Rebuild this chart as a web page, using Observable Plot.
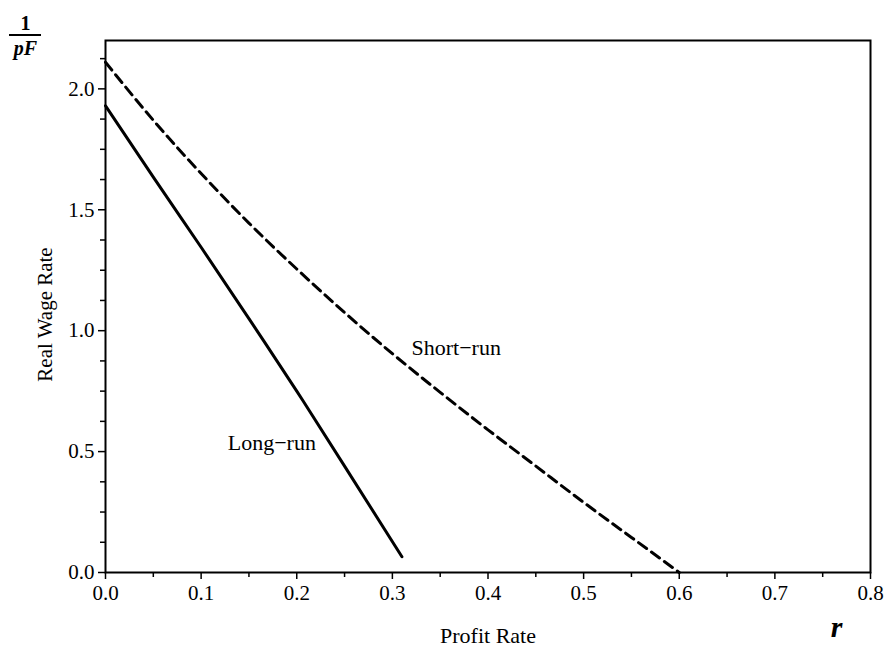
<!DOCTYPE html>
<html>
<head>
<meta charset="utf-8">
<script src="https://cdn.jsdelivr.net/npm/d3@7"></script>
<script src="https://cdn.jsdelivr.net/npm/@observablehq/plot@0.6"></script>
<style>
  body { margin: 0; background: #fff; }
  #chart { position: relative; width: 890px; height: 648px; font-family: "Liberation Serif", "Times New Roman", serif; }
  #fracbar { position: absolute; left: 9px; top: 34px; width: 32px; height: 2px; background: #000; }
</style>
</head>
<body>
<div id="chart"><div id="fracbar"></div></div>
<script>
// Wage–profit frontiers: real wage (1/pF) against the profit rate r
const shortRunRate = [0, 0.05, 0.1, 0.15, 0.2, 0.25, 0.3, 0.35, 0.4, 0.45, 0.5, 0.55, 0.6];
const shortRunWage = [2.11, 1.87, 1.65, 1.445, 1.255, 1.075, 0.905, 0.745, 0.59, 0.44, 0.29, 0.145, 0];

const longRunRate = [0, 0.05, 0.1, 0.15, 0.2, 0.25, 0.31];
const longRunWage = [1.93, 1.635, 1.345, 1.05, 0.75, 0.44, 0.065];

const xMajorTicks = [0, 0.1, 0.2, 0.3, 0.4, 0.5, 0.6, 0.7, 0.8];
const xMinorTicks = [0.05, 0.15, 0.25, 0.35, 0.45, 0.55, 0.65, 0.75];
const yMajorTicks = [0, 0.5, 1.0, 1.5, 2.0];
const yMinorTicks = [0.125, 0.25, 0.375, 0.625, 0.75, 0.875, 1.125, 1.25, 1.375, 1.625, 1.75, 1.875, 2.125];

const shortRunLabel = [{text: "Short\u2212run", r: 0.32, w: 0.93}];
const longRunLabel = [{text: "Long\u2212run", r: 0.22, w: 0.535}];

const serif = '"Liberation Serif", "Times New Roman", serif';
const fmt = d => d.toFixed(1);

const chart = Plot.plot({
  width: 890,
  height: 648,
  marginLeft: 105,
  marginRight: 20,
  marginTop: 40,
  marginBottom: 76,
  style: {fontFamily: serif, fontSize: "20px", color: "#000", background: "#fff", overflow: "visible"},
  x: {domain: [0, 0.8]},
  y: {domain: [0, 2.2]},
  marks: [
    Plot.frame({stroke: "#000", strokeWidth: 2}),
    Plot.axisX({ticks: xMinorTicks, tickSize: 5, tickFormat: () => "", label: null, strokeWidth: 1.5}),
    Plot.axisX({ticks: xMajorTicks, tickSize: 7, tickPadding: 6, tickFormat: fmt, label: null, strokeWidth: 1.5, fontSize: 21}),
    Plot.axisY({ticks: yMinorTicks, tickSize: 5, tickFormat: () => "", label: null, strokeWidth: 1.5}),
    Plot.axisY({ticks: yMajorTicks, tickSize: 7, tickPadding: 4, tickFormat: fmt, label: null, strokeWidth: 1.5, fontSize: 21}),
    Plot.line(shortRunWage, {
      x: (d, i) => shortRunRate[i], y: d => d,
      stroke: "#000", strokeWidth: 3, strokeDasharray: "10,6", curve: "natural"
    }),
    Plot.line(longRunWage, {
      x: (d, i) => longRunRate[i], y: d => d,
      stroke: "#000", strokeWidth: 3, curve: "natural"
    }),
    Plot.text(shortRunLabel, {x: "r", y: "w", text: "text", textAnchor: "start", fontSize: 22, fill: "#000"}),
    Plot.text(longRunLabel, {x: "r", y: "w", text: "text", textAnchor: "end", fontSize: 22, fill: "#000"}),
    Plot.text(["Profit Rate"], {frameAnchor: "bottom", lineAnchor: "middle", dy: 63, fontSize: 22, fill: "#000"}),
    Plot.text(["Real Wage Rate"], {frameAnchor: "left", textAnchor: "middle", lineAnchor: "middle", dx: -60, dy: 8, rotate: -90, fontSize: 21, fill: "#000"}),
    Plot.text(["r"], {frameAnchor: "bottom-right", lineAnchor: "middle", textAnchor: "middle", dx: -34, dy: 55, fontSize: 30, fontStyle: "italic", fontWeight: "bold", fill: "#000"}),
    Plot.text(["1"], {frameAnchor: "top-left", textAnchor: "middle", lineAnchor: "middle", dx: -80, dy: -17, fontSize: 20, fontWeight: "bold", fill: "#000"}),
    Plot.text(["pF"], {frameAnchor: "top-left", textAnchor: "middle", lineAnchor: "middle", dx: -80, dy: 8, fontSize: 20, fontStyle: "italic", fontWeight: "bold", fill: "#000"})
  ]
});

document.getElementById("chart").appendChild(chart);
</script>
</body>
</html>
